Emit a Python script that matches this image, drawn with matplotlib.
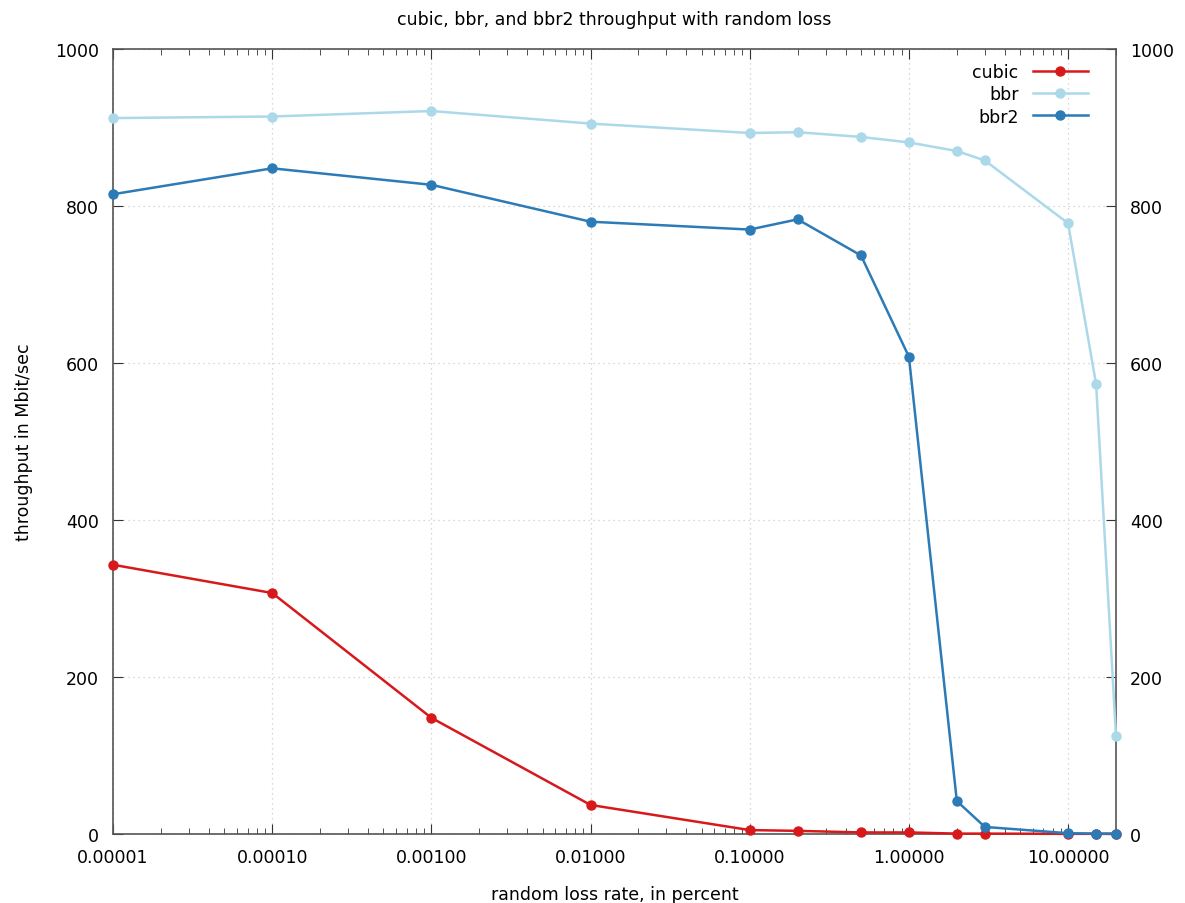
import numpy as np
import matplotlib.pyplot as plt
from matplotlib.ticker import FixedLocator, LogLocator, NullFormatter

# loss rates (percent)
loss = [0.00001, 0.0001, 0.001, 0.01, 0.1, 0.2, 0.5, 1, 2, 3, 10, 15, 20]

# throughput in Mbit/sec
cubic = [343, 307, 148, 37, 5, 4, 2, 2, 0.5, 0.5, 0.2, 0.2, 0.2]
bbr = [912, 914, 921, 905, 893, 894, 888, 881, 870, 858, 778, 573, 125]
bbr2 = [815, 848, 827, 780, 770, 783, 737, 608, 42, 9, 1, 0.5, 0.5]

xticks = [0.00001, 0.0001, 0.001, 0.01, 0.1, 1, 10]
xtick_labels = ['0.00001', '0.00010', '0.00100', '0.01000', '0.10000', '1.00000', '10.00000']
yticks = [0, 200, 400, 600, 800, 1000]

plt.rcParams['font.family'] = ['DejaVu Sans']
plt.rcParams['font.size'] = 12.5

fig = plt.figure(figsize=(11.85, 9.04), dpi=100)
ax = fig.add_axes([113 / 1185, 1 - 835 / 904, (1116 - 113) / 1185, (835 - 50) / 904])

for vals, col, name in [(cubic, '#d7191c', 'cubic'), (bbr, '#abd9e9', 'bbr'), (bbr2, '#2c7bb6', 'bbr2')]:
    ax.plot(loss, vals, color=col, marker='o', markersize=6.5, linewidth=1.8, label=name, clip_on=False, zorder=3)

ax.set_xscale('log')
ax.set_xlim(0.00001, 20)
ax.set_ylim(0, 1000)
ax.xaxis.set_major_locator(FixedLocator(xticks))
ax.set_xticklabels(xtick_labels)
ax.xaxis.set_minor_locator(LogLocator(base=10, subs=np.arange(2, 10), numticks=20))
ax.xaxis.set_minor_formatter(NullFormatter())
ax.set_yticks(yticks)

ax.tick_params(which='both', direction='in', top=True, right=True, labelright=True, color='#333333')
ax.tick_params(which='major', length=7, pad=10)
ax.tick_params(which='minor', length=4)
for s in ax.spines.values():
    s.set_color('#555555')
    s.set_linewidth(1.2)

ax.grid(True, which='major', color='#cccccc', linestyle=(0, (1, 3)), linewidth=0.9)

ax.set_xlabel('random loss rate, in percent', labelpad=14)
ax.set_ylabel('throughput in Mbit/sec', labelpad=16)
ax.set_title('cubic, bbr, and bbr2 throughput with random loss', fontsize=12.5, pad=18)

leg = ax.legend(loc='upper right', bbox_to_anchor=(0.986, 1.0), frameon=False, markerfirst=False,
                handlelength=3.2, borderaxespad=0.4, labelspacing=0.25, handletextpad=0.8)

fig.savefig('out.png', dpi=100)
